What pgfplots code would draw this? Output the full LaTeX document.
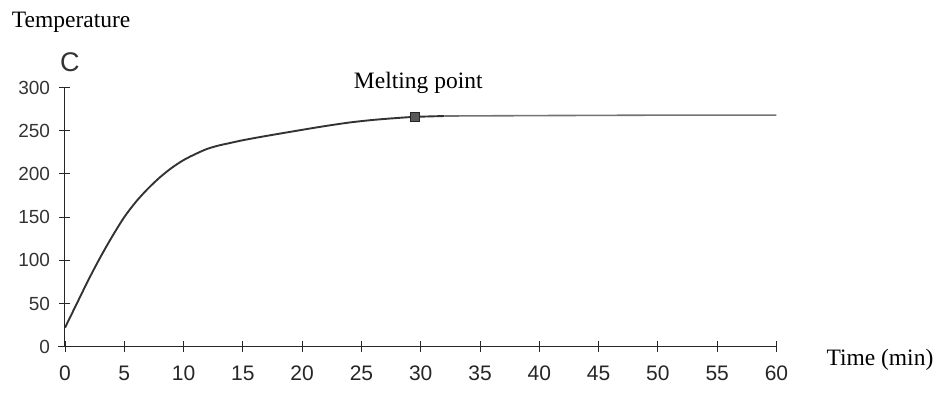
\documentclass[border=0pt]{standalone}
\usepackage{fontspec}
\setmainfont{Liberation Serif}
\newfontfamily\sansf{Liberation Sans}
\usepackage{pgfplots}
\pgfplotsset{compat=1.18}
\begin{document}
\begin{tikzpicture}
\begin{axis}[
 scale only axis, width=711.5pt, height=259.2pt,
 xmin=0, xmax=60, ymin=0, ymax=300,
 axis lines=left,
 axis line style={-, black!85, line width=1pt},
 x axis line style={shorten <=-7pt},
 xtick={0,5,...,60}, ytick={0,50,...,300},
 tick align=center, major tick length=11pt,
 tick style={black!85, line width=0.9pt},
 xticklabel style={font=\sansf\fontsize{21}{22}\selectfont, text=black!85, yshift=-10pt},
 yticklabel style={font=\sansf\fontsize{19}{20}\selectfont, text=black!80, xshift=-6pt},
 /pgf/number format/assume math mode=true,
 clip=false,
]
\addplot[black!80, line width=1.9pt, smooth, tension=0.5] coordinates {
 (0,22) (1,50) (2,78) (3,104) (4,128) (5,150) (6,168) (7,183) (8,196) (9,207)
 (10,216) (11,223) (12,229) (13,233) (14,236) (15,239) (17,244) (20,251)
 (22,255.5) (24,259.5) (26,262.5) (28,264.7) (29.5,266) (32,267)
};
\addplot[black!55, line width=1.6pt] coordinates {
 (32,267) (40,267.5) (50,268) (60,268)
};
\addplot[only marks, mark=square*, mark size=4.5pt, mark options={fill=black!65, draw=black!85}] coordinates {(29.5,266)};
\coordinate (o) at (axis cs:0,0);
\node[anchor=base west, inner sep=0, font=\fontsize{23.5}{24}\selectfont] at (axis cs:-4.49,368.9) {Temperature};
\node[anchor=base west, inner sep=0, font=\sansf\fontsize{27}{28}\selectfont, text=black!80] at (axis cs:-0.42,318) {C};
\node[anchor=base, inner sep=0, font=\fontsize{23.5}{24}\selectfont] at (axis cs:29.79,299) {Melting point};
\node[anchor=base west, inner sep=0, font=\fontsize{23.5}{24}\selectfont] at (axis cs:64.2,-22.3) {Time (min)};
\end{axis}
\pgfresetboundingbox
\path ([shift={(-65pt,346.7pt)}]o) rectangle ([shift={(873pt,-45.3pt)}]o);
\end{tikzpicture}
\end{document}
